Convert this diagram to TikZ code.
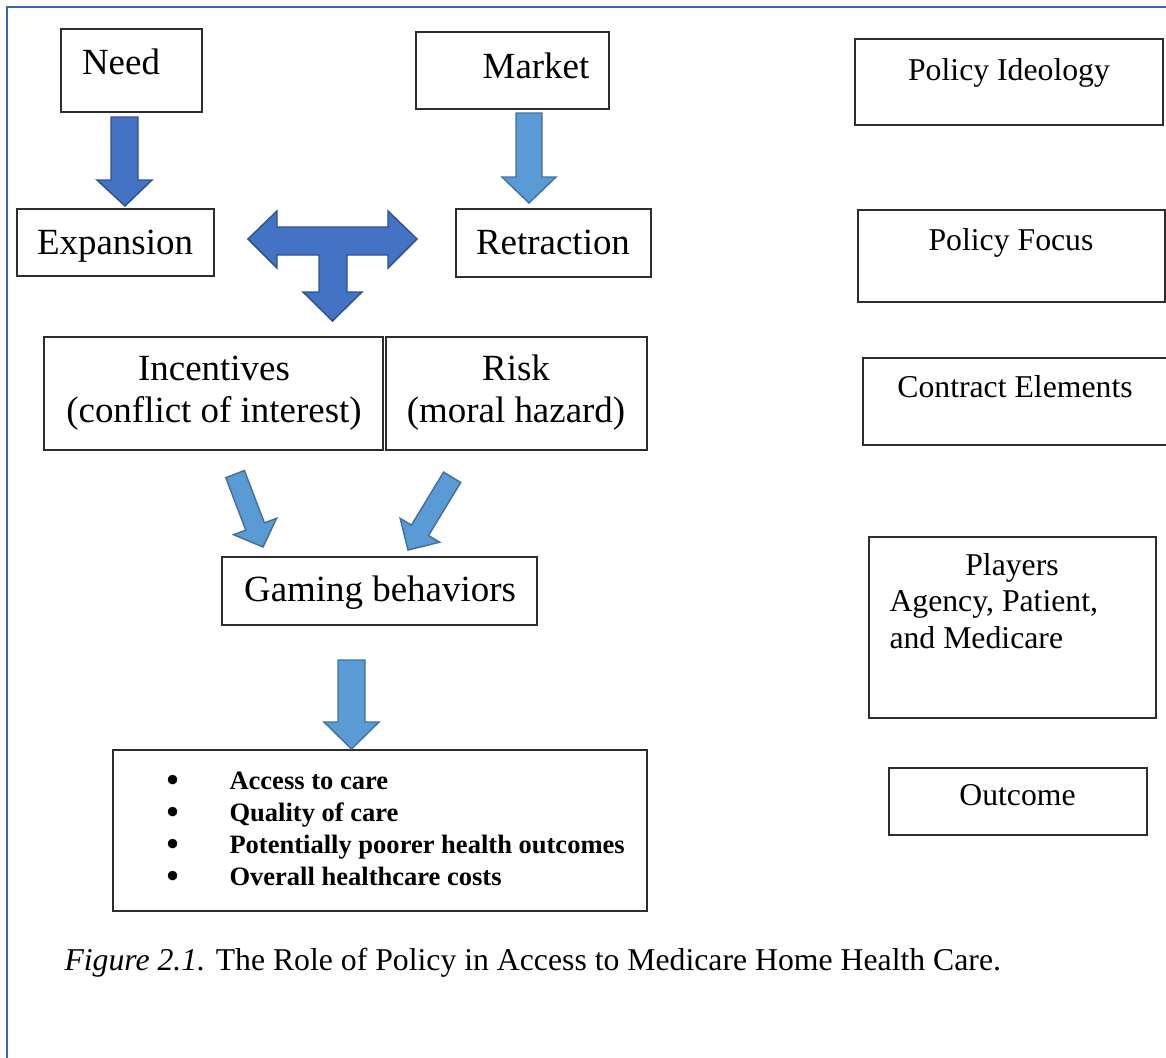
\documentclass[tikz,border=0pt]{standalone}
\usepackage{fontspec}
\setmainfont{Liberation Serif}
\usetikzlibrary{fit}

\definecolor{frameblue}{RGB}{62,100,170}
\definecolor{boxline}{RGB}{45,45,45}
\definecolor{darkfill}{RGB}{68,114,196}
\definecolor{darkedge}{RGB}{47,82,143}
\definecolor{lightfill}{RGB}{91,155,213}
\definecolor{lightedge}{RGB}{65,113,156}

\newcommand{\bulletitem}{\makebox[47.25pt][l]{\raisebox{-1.8pt}{\scalebox{1.3}{\textbullet}}}}

\tikzset{every picture/.style={line width=0.75pt}}
\tikzset{
  box/.style={draw=boxline, line width=0.9pt, inner sep=0pt},
  bigtext/.style={font=\fontsize{27.7}{32}\selectfont, inner sep=0pt, anchor=base},
  sidetext/.style={font=\fontsize{23.8}{27.3}\selectfont, inner sep=0pt, anchor=base},
  darkarrow/.style={fill=darkfill, draw=darkedge, line width=1.1pt},
  lightarrow/.style={fill=lightfill, draw=lightedge, line width=1.1pt},
}

\begin{document}
\begin{tikzpicture}[x=0.75pt,y=0.75pt,yscale=-1,xscale=1]
	\useasboundingbox (0,0) rectangle (1166,1057);
	
	%Frame
	\draw [frameblue, line width=1.5pt]    (7,1070) -- (7,7) -- (1180,7) ;
	
	%Boxes, left column
	\node [box, fit={(61,29) (202,112)}] (need) {};
	\node [box, fit={(416,32) (609,109)}] (market) {};
	\node [box, fit={(17,209) (214,276)}] (expansion) {};
	\node [box, fit={(456,209) (651,277)}] (retraction) {};
	\node [box, fit={(44,337) (383,450)}] (incentives) {};
	\node [box, fit={(386,337) (647,450)}] (risk) {};
	\node [box, fit={(222,557) (537,625)}] (gaming) {};
	\node [box, fit={(113,750) (647,911)}] (results) {};
	
	%Boxes, right column
	\node [box, fit={(855,39) (1163,125)}] (ideology) {};
	\node [box, fit={(858,210) (1165,302)}] (focus) {};
	\node [box, fit={(863,358) (1175,445)}] (contract) {};
	\node [box, fit={(869,537) (1156,718)}] (players) {};
	\node [box, fit={(889,768) (1147,835)}] (outcome) {};
	
	%Labels
	\node [bigtext] (needtext) at (121,74) {Need};
	\node [bigtext] (markettext) at (536,78) {Market};
	\node [bigtext] (expansiontext) at (115,254) {Expansion};
	\node [bigtext] (retractiontext) at (553,254) {Retraction};
	\node [bigtext] (incentivestext) at (214,380) {Incentives};
	\node [bigtext] (conflicttext) at (214,422.5) {(conflict of interest)};
	\node [bigtext] (risktext) at (516,380) {Risk};
	\node [bigtext] (hazardtext) at (516,422.5) {(moral hazard)};
	\node [bigtext] (gamingtext) at (380,601) {Gaming behaviors};
	
	\node [sidetext] (ideologytext) at (1009,80.5) {Policy Ideology};
	\node [sidetext] (focustext) at (1011,250.5) {Policy Focus};
	\node [sidetext] (contracttext) at (1015,397.5) {Contract Elements};
	\node [sidetext] (playerstext) at (1012,575.5) {Players};
	\node [sidetext, anchor=base west] (agencytext) at (889,611.9) {Agency, Patient,};
	\node [sidetext, anchor=base west] (medicaretext) at (889,648.3) {and Medicare};
	\node [sidetext] (outcometext) at (1017.5,805.5) {Outcome};
	
	%Bullet list (base anchor sits on the last line)
	\node [anchor=base west, inner sep=0pt, align=left, font=\bfseries\fontsize{19.9}{24}\selectfont] (resultstext) at (166,885) {%
		\bulletitem Access to care\\
		\bulletitem Quality of care\\
		\bulletitem Potentially poorer health outcomes\\
		\bulletitem Overall healthcare costs};
	
	%Caption
	\node [anchor=base west, inner sep=0pt, font=\fontsize{23.8}{27}\selectfont] (caption) at (64,970) {\textit{Figure 2.1.} The Role of Policy in Access to Medicare Home Health Care.};
	
	%Shape: Down Arrow, need to expansion
	\draw [darkarrow]  (111,117) -- (138,117) -- (138,180) -- (152,180) -- (125,206) -- (97,180) -- (111,180) -- cycle ;
	%Shape: Down Arrow, market to retraction
	\draw [lightarrow]  (516,113) -- (542,113) -- (542,177) -- (556,177) -- (529,203) -- (502,177) -- (516,177) -- cycle ;
	%Shape: Tee Arrow between expansion and retraction
	\draw [darkarrow]  (248,239) -- (277,211) -- (277,227) -- (388,227) -- (388,211) -- (417,239) -- (388,268) -- (388,255) -- (347,255) -- (347,292) -- (362,292) -- (332.5,321) -- (303,292) -- (319,292) -- (319,255) -- (277,255) -- (277,268) -- cycle ;
	%Shape: Diagonal Arrow, incentives to gaming
	\draw [lightarrow]  (225.8,477.7) -- (244.4,470.5) -- (264.4,522.9) -- (276.6,518.3) -- (263,547) -- (233.6,534.7) -- (245.8,530.1) -- cycle ;
	%Shape: Diagonal Arrow, risk to gaming
	\draw [lightarrow]  (460.7,482.5) -- (443.6,472.1) -- (411.4,525.1) -- (400.2,518.4) -- (408,550) -- (439.6,542.2) -- (428.5,535.5) -- cycle ;
	%Shape: Down Arrow, gaming to results
	\draw [lightarrow]  (338,660) -- (365,660) -- (365,722) -- (379,722) -- (351.5,749) -- (324,722) -- (338,722) -- cycle ;
	
\end{tikzpicture}
\end{document}
